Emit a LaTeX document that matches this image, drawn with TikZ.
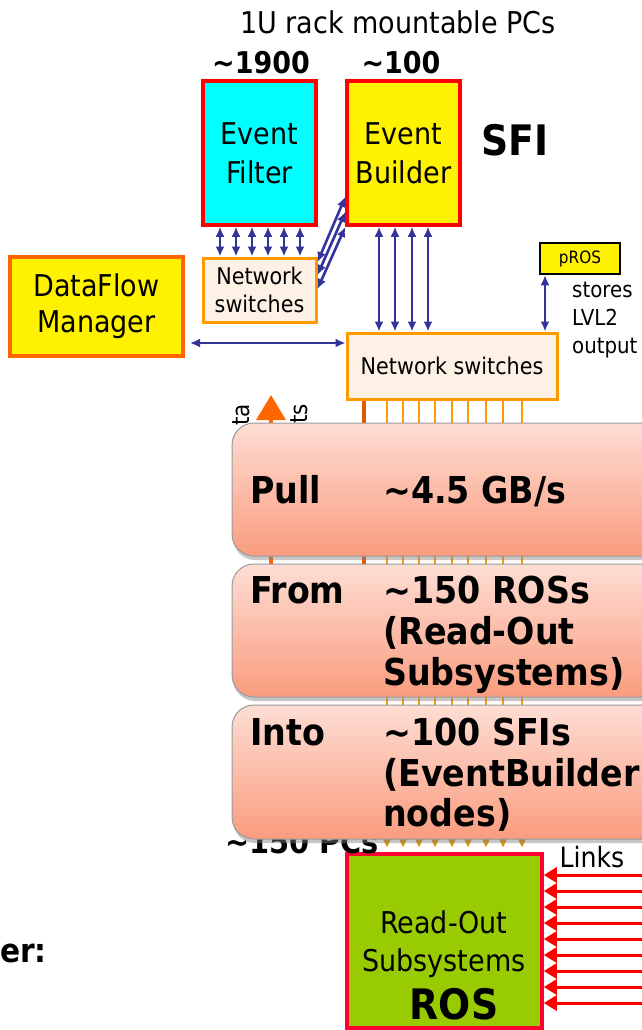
\documentclass[tikz,border=0pt]{standalone}
\usepackage{fontspec}
\setmainfont{DejaVu Sans Condensed}
\usetikzlibrary{arrows.meta,calc,shadows}
\definecolor{efcyan}{HTML}{00FFFF}
\definecolor{linkblue}{HTML}{333399}
\definecolor{nsfill}{HTML}{FDF0E4}
\definecolor{nsorange}{HTML}{FF9900}
\definecolor{dfmorange}{HTML}{FF6600}
\definecolor{rosgreen}{HTML}{99CC00}
\definecolor{rosred}{HTML}{FF0033}
\definecolor{tipbrown}{HTML}{E08D00}
\definecolor{darkfeed}{HTML}{E05A00}
\definecolor{calltop}{HTML}{FDDDD4}
\definecolor{callbot}{HTML}{FA9C7E}
\definecolor{callgray}{HTML}{9A9A9A}
\def\fsz#1#2{\fontsize{#1}{#2}\selectfont}
\tikzset{
  box/.style={draw, rectangle, align=center, inner sep=0pt},
  dbl/.style={{Latex[length=10pt,width=9pt]}-{Latex[length=10pt,width=9pt]}, draw=linkblue, line width=2.6pt},
  feed/.style={draw=nsorange, line width=2.2pt, -{Triangle[length=11pt,width=10pt,color=tipbrown]}},
  link/.style={draw=red, line width=3pt, -{Triangle[length=13pt,width=15pt]}},
  callout/.style={rounded corners=22pt, draw=callgray, line width=1pt, top color=calltop, bottom color=callbot,
    drop shadow={opacity=.45, shadow xshift=1pt, shadow yshift=-4pt}},
  txt/.style={inner sep=0pt, anchor=base west, font=\bfseries\fsz{37}{40}}
}

\begin{document}
\begin{tikzpicture}[x=1pt,y=-1pt]
			%%%%% START %%%%%
			\useasboundingbox (0,0) rectangle (642,1030);
			\clip (0,0) rectangle (642,1030);
			
			\node[font=\fsz{30}{36}] (rack) at (398,22) {1U rack mountable PCs};
			\node[font=\bfseries\fsz{30}{36}] (nef) at (261,63) {\textasciitilde1900};
			\node[font=\bfseries\fsz{30}{36}] (neb) at (401,63) {\textasciitilde100};
			\node[box, fill=efcyan, draw=red, line width=3.5pt, minimum width=113pt, minimum height=144pt, font=\fsz{30}{39}] (ef) at (259.5,153) {Event\\Filter};
			\node[box, fill=yellow, draw=red, line width=3.5pt, minimum width=113pt, minimum height=144pt, font=\fsz{30}{39}] (eb) at (403.5,153) {Event\\Builder};
			\node[font=\bfseries\fsz{42}{48}] (sfi) at (515,140) {SFI};
			
			\node[box, fill=nsfill, draw=nsorange, line width=3pt, minimum width=113pt, minimum height=64pt, font=\fsz{23}{28}] (nsa) at (259.5,290) {Network\\switches};
			\node[box, fill=nsfill, draw=nsorange, line width=3pt, minimum width=210pt, minimum height=66pt, font=\fsz{23}{28}] (nsb) at (452,366) {Network switches};
			\node[box, fill=yellow, draw=dfmorange, line width=4pt, minimum width=173pt, minimum height=99pt, font=\fsz{30}{36}] (dfm) at (96.5,306.5) {DataFlow\\Manager};
			\node[box, fill=yellow, draw=black, line width=2.5pt, minimum width=80pt, minimum height=31pt, font=\fsz{17}{20}] (pros) at (580,258.5) {pROS};
			\node[align=left, anchor=north west, inner sep=0pt, font=\fsz{22}{28}] (lvl2) at (572,282) {stores\\LVL2\\output};
			
			\foreach \x in {220,236,252,268,284,300}
				\draw[dbl] (ef.south -| \x,0) -- (nsa.north -| \x,0);
			\foreach \x in {379,395,412,428}
				\draw[dbl] (eb.south -| \x,0) -- (nsb.north -| \x,0);
			\foreach \a/\b in {262/197,275/212,289/227}
				\draw[dbl] (nsa.east |- 0,\a) -- (eb.west |- 0,\b);
			\draw[dbl, shorten <=5pt] (dfm.east |- 0,343) -- (nsb.west |- 0,343);
			\draw[dbl] (pros.south -| 545,0) -- (nsb.north -| 545,0);
			
			% ROS and the feeds behind the boxes
			\node[box, fill=rosgreen, draw=rosred, line width=3.5pt, minimum width=195pt, minimum height=174pt] (ros) at (444.5,941) {};
			\foreach \x in {387,403,419,435,452,468,486,503,522}
				\draw[feed] (nsb.south -| \x,0) -- ($(ros.north -| \x,0)+(0,-5)$);
			\coordinate (feedend) at (364,650);
			\draw[draw=darkfeed, line width=3.5pt] (nsb.south -| feedend) -- (feedend);
			\coordinate (reqtop) at (271,395);
			\coordinate (reqbot) at (271,650);
			\draw[draw=dfmorange, line width=3.5pt, -{Triangle[length=25pt,width=29pt]}] (reqbot) -- (reqtop);
			\node[rotate=90, anchor=base east, inner sep=0pt, font=\fsz{24}{28}] (rqa) at (249,404) {ta};
			\node[rotate=90, anchor=base east, inner sep=0pt, font=\fsz{24}{28}] (rqb) at (307,404) {ts};
			\node[txt, font=\bfseries\fsz{32}{36}] (pcs) at (225,853) {\textasciitilde150 PCs};
			
			% the three boxes on top
			\shadedraw[callout] (232,423) rectangle (690,556);
			\shadedraw[callout] (232,564) rectangle (690,697);
			\shadedraw[callout] (232,705) rectangle (690,839);
			
			\node[txt] (pl) at (250,503) {Pull};
			\node[txt] (rate) at (383,503) {\textasciitilde4.5 GB/s};
			\node[txt] (frm) at (250,603) {From};
			\node[txt] (rosa) at (383,603) {\textasciitilde150 ROSs};
			\node[txt] (rosb) at (383,644) {(Read-Out};
			\node[txt] (rosc) at (383,685) {Subsystems)};
			\node[txt] (into) at (250,745) {Into};
			\node[txt] (sfia) at (383,745) {\textasciitilde100 SFIs};
			\node[txt] (sfib) at (383,786) {(EventBuilder};
			\node[txt] (sfic) at (383,826) {nodes)};
			
			\node[align=center, font=\fsz{30}{38}] (rostxt) at (444,944) {Read-Out\\Subsystems};
			\node[font=\bfseries\fsz{42}{46}] (roslbl) at (454,1004) {ROS};
			\node[font=\fsz{28}{32}] (links) at (592,857) {Links};
			\node[anchor=base west, inner sep=0pt, font=\bfseries\fsz{33}{40}] (evb) at (0,962) {er:};
			\foreach \i in {0,...,8} {
				\coordinate (l\i) at (650,{875+16*\i});
				\draw[link] (l\i) -- (ros.east |- l\i);
			}
			%%%%% END %%%%%
\end{tikzpicture}
\end{document}
